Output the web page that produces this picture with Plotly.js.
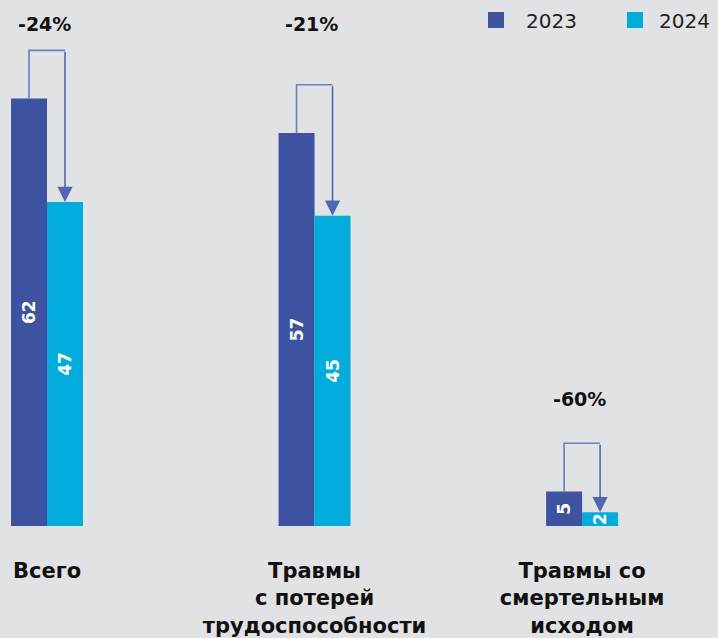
<!DOCTYPE html>
<html><head><meta charset="utf-8">
<script src="https://cdn.plot.ly/plotly-3.0.1.min.js"></script>
<style>html,body{margin:0;padding:0;background:#e1e2e4;}#chart{width:718px;height:638px;}</style>
</head><body><div id="chart"></div>
<script>
const categories = ['Всего', 'Травмы<br>с потерей<br>трудоспособности', 'Травмы со<br>смертельным<br>исходом'];
const seriesNames = ['2023', '2024'];
const values2023 = [62, 57, 5];
const values2024 = [47, 45, 2];

const C2023 = '#3d52a0', C2024 = '#00acdc', ARROW = '#6d7dbd', BG = '#e1e2e4';
const FONT = 'DejaVu Sans, sans-serif';
const W = 718, PLOT_H = 526;
const xs = categories.map((_, i) => i);
const bargap = 0.731;
const half = (1 - bargap) / 4; // offset of each bar centre from group centre
const lift = 7; // bracket height above the taller bar, data units

const barTrace = (name, vals, color) => ({
  type: 'bar', name: name, x: xs, y: vals,
  marker: {color: color, line: {width: 0}},
  text: vals.map(String), textposition: 'inside', insidetextanchor: 'middle',
  textangle: -90, textfont: {family: FONT, size: 17, color: '#ffffff', weight: 'bold'},
  cliponaxis: false, hoverinfo: 'skip', showlegend: false
});

const shapes = [], annotations = [];
const tops = xs.map(i => Math.max(values2023[i], values2024[i]) + lift);
const topRow = Math.max(...tops);
xs.forEach(i => {
  const xa = i - half, xb = i + half, top = tops[i];
  shapes.push({type: 'path', xref: 'x', yref: 'y',
    path: `M ${xa},${values2023[i]} L ${xa},${top} L ${xb},${top}`,
    line: {color: ARROW, width: 1.6}});
  annotations.push({xref: 'x', yref: 'y', axref: 'x', ayref: 'y',
    x: xb, y: values2024[i], ax: xb, ay: top, text: '', showarrow: true,
    arrowhead: 2, arrowsize: 1.9, arrowwidth: 1.6, arrowcolor: '#5266b0', standoff: 0});
  const pct = Math.round((values2024[i] - values2023[i]) / values2023[i] * 100);
  const onTopRow = top > 30;
  annotations.push({xref: 'x', yref: 'y', x: i - 0.01, y: onTopRow ? topRow : top,
    yshift: onTopRow ? 26 : 44, yanchor: 'middle',
    text: (pct > 0 ? '+' : '') + pct + '%', showarrow: false,
    font: {family: FONT, size: 19, color: '#111111', weight: 'bold'}});
});

// legend drawn by hand: colour square + series name
const legendColors = [C2023, C2024];
const legendLeft = [488, 627];
const legendTextLeft = [524, 657];
seriesNames.forEach((name, k) => {
  const x0 = legendLeft[k];
  shapes.push({type: 'rect', xref: 'paper', yref: 'paper',
    x0: x0 / W, x1: (x0 + 16) / W, y0: 1 - 28 / PLOT_H, y1: 1 - 12 / PLOT_H,
    fillcolor: legendColors[k], line: {width: 0}});
  annotations.push({xref: 'paper', yref: 'paper', x: legendTextLeft[k] / W, y: 1 - 21 / PLOT_H,
    xanchor: 'left', yanchor: 'middle', text: name, showarrow: false,
    font: {family: FONT, size: 20, color: '#222222'}});
});

const layout = {
  width: W, height: 638,
  margin: {l: 0, r: 0, t: 0, b: 112, pad: 0},
  paper_bgcolor: BG, plot_bgcolor: BG,
  barmode: 'group', bargap: bargap, bargroupgap: 0,
  uniformtext: {minsize: 17, mode: 'show'},
  xaxis: {range: [-0.1757, 2.508], tickmode: 'array', tickvals: xs, ticktext: categories,
    showgrid: false, zeroline: false, showline: false, ticks: '', ticklabelstandoff: 30,
    tickfont: {family: FONT, size: 21, color: '#111111', weight: 'bold'}, fixedrange: true},
  yaxis: {range: [0, 76.3], visible: false, fixedrange: true},
  showlegend: false,
  shapes: shapes, annotations: annotations
};

Plotly.newPlot('chart', [barTrace(seriesNames[0], values2023, C2023), barTrace(seriesNames[1], values2024, C2024)],
  layout, {displayModeBar: false, staticPlot: true});
</script></body></html>
